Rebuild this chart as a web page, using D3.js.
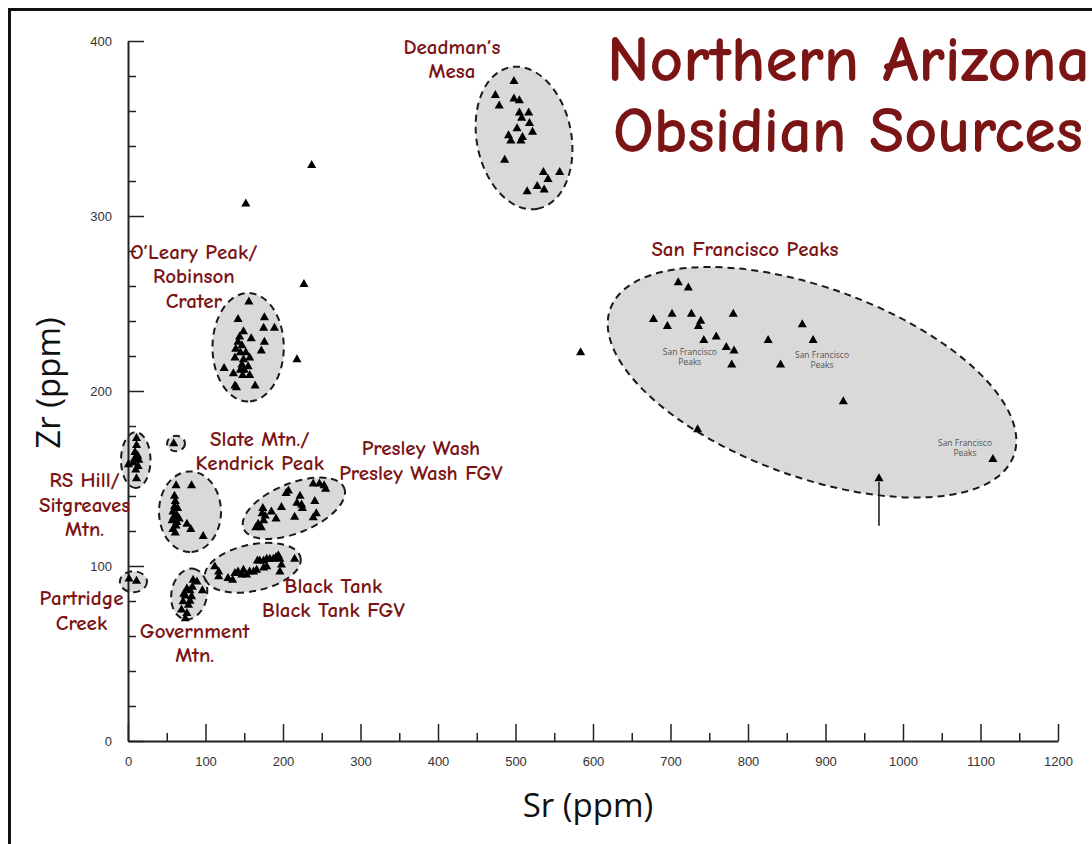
<!DOCTYPE html>
<html>
<head>
<meta charset="utf-8">
<script src="https://cdn.jsdelivr.net/npm/d3@7"></script>
<style>
  html, body { margin: 0; padding: 0; background: #fff; }
  svg { display: block; }
</style>
</head>
<body>
<svg id="chart" width="1092" height="844"></svg>
<script>
// Sr (ppm) / Zr (ppm) measurements, grouped by obsidian source
const deadmansMesa = [
  [498,377],[474,369],[498,367],[505,366],[479,363],[505,359],[517,359],[508,356],
  [518,353],[502,350],[522,348],[491,346],[509,345],[494,343],[507,343],[486,332],
  [536,325],[557,325],[542,321],[528,317],[537,315],[515,314]
];
const olearyPeak = [
  [156,251],[142,241],[176,242],[175,236],[189,236],[149,234],[159,230],[142,228],
  [176,228],[172,223],[145,222],[138,219],[157,219],[149,218],[124,213],[136,210],
  [145,212],[148,209],[157,209],[138,203],[140,202],[164,203],[147,215],[147,226],
  [152,222],[155,214],[144,231],[150,212],[139,224]
];
const rsHill = [
  [11,173],[11,169],[9,165],[12.5,163],[9,161.5],[14,160.5],[0.5,158],[7,159],
  [13,157],[10,155],[11,150]
];
const isolated = [[59,170]];
const slateMtn = [
  [62,146],[82,146],[61,137],[60,134],[58,131],[63,129],[57,126],[62,123],[58,121],
  [76,124],[81,121],[97,117],[60,140],[64,133],[59,128],[63,125],[61,119],[66,127]
];
const partridgeCreek = [[1.3,92.6],[11,91.4]];
const governmentMtn = [
  [84,92],[89,91],[76,87],[80,86],[96,86],[74,83],[82,82.5],[71,79.6],[78,77.7],
  [69,75],[76,73],[74,70],[80,80],[72,84],[83,88]
];
const presleyWash = [
  [239,147],[247,147],[253,146],[255,144],[207,143],[204,141.5],[222,140],[241,137],
  [218,136],[224,135],[225,133],[198,133.5],[174,133],[185,131],[173,130],[177,128.6],
  [191,127],[215,128],[243,130],[239,127.6],[175,126],[168,124],[165,122],[172,122]
];
const blackTank = [
  [215,104],[196,104],[194,106],[191,105],[187.5,104],[183,104],[179,104],[175,103],
  [170,103],[167,103],[198,100.6],[179,99.6],[175,99],[196,96.7],[166,97.7],[162,96.7],
  [157,96.7],[153,95],[149,97.7],[147,95],[142,96.7],[138,95.8],[129,93],[135,92],
  [117,96.7],[112,99.6],[117,94]
];
const sanFranciscoPeaks = [
  [710,262],[723,259],[678,241],[702,244],[727,244],[739,240],[736,237],[696,237],
  [781,244],[743,229],[759,231],[772,225],[782,223],[779,215],[826,229],[842,215],
  [870,238],[884,229],[923,194],[735,178],[969,150],[1116,161]
];
const outliers = [[152,307],[237,329],[227,261],[218,218],[584,222]];

// Source envelopes: centre (Sr, Zr), semi-axes in Sr ppm, tilt in degrees
const envelopes = [
  {name:"Deadman's Mesa",   sr:511, zr:344.6, a:93,  b:61,  tilt:79},
  {name:"O'Leary Peak",     sr:155, zr:225,   a:70,  b:46,  tilt:90},
  {name:"RS Hill",          sr:10,  zr:160.5, a:36,  b:19,  tilt:90},
  {name:"Isolated",         sr:62,  zr:170,   a:11.5,b:10,  tilt:0},
  {name:"Slate Mtn.",       sr:80,  zr:131,   a:52,  b:40,  tilt:90},
  {name:"Presley Wash",     sr:214, zr:133,   a:70,  b:32,  tilt:-22},
  {name:"Black Tank",       sr:161, zr:99,    a:63,  b:30,  tilt:-12},
  {name:"Government Mtn.",  sr:79,  zr:84,    a:33,  b:23,  tilt:-80},
  {name:"Partridge Creek",  sr:7,   zr:91,    a:17.5,b:13.5,tilt:0},
  {name:"San Francisco Peaks", sr:882.6, zr:205, a:277, b:122, tilt:20}
];

const pointGroups = [deadmansMesa, olearyPeak, rsHill, isolated, slateMtn, partridgeCreek,
  governmentMtn, presleyWash, blackTank, sanFranciscoPeaks, outliers];

// Source names: anchor (Sr, Zr) of the first line
const sourceLabels = [
  {lines:["Deadman’s","Mesa"], sr:418, zr:392.6},
  {lines:["O’Leary Peak/","Robinson","Crater"], sr:85, zr:275.5},
  {lines:["Slate Mtn./","Kendrick Peak"], sr:170, zr:168.6},
  {lines:["Presley Wash","Presley Wash FGV"], sr:378, zr:163.4},
  {lines:["RS Hill/","Sitgreaves","Mtn."], sr:-56, zr:145},
  {lines:["Partridge","Creek"], sr:-60, zr:77.5},
  {lines:["Government","Mtn."], sr:86, zr:59},
  {lines:["Black Tank","Black Tank FGV"], sr:265, zr:84.6},
  {lines:["San Francisco Peaks"], sr:796, zr:277}
];
const smallLabels = [
  {lines:["San Francisco","Peaks"], sr:725, zr:220.8},
  {lines:["San Francisco","Peaks"], sr:895.5, zr:219},
  {lines:["San Francisco","Peaks"], sr:1080, zr:168.8}
];
// pointer beneath the Sr 969 sample
const pointer = {sr:969, zrFrom:148, zrTo:123};

const titleLines = ["Northern Arizona", "Obsidian Sources"];
const xTicks = d3.range(0, 1201, 100);
const xMinor = d3.range(50, 1200, 100);
const yTicks = [0, 100, 200, 300, 400];
const yMinor = [20,40,60,80,120,140,160,180,220,240,260,280,320,340,360,380];

const svg = d3.select("#chart");
const x = d3.scaleLinear().domain([0, 1200]).range([128, 1058]);
const y = d3.scaleLinear().domain([0, 400]).range([741, 41]);
const pxPerSr = x(1) - x(0);

const red = "#7b1414";
const comic = "'Comic Sans MS', 'Comic Neue', 'DejaVu Sans', sans-serif";

// outer frame
svg.append("rect").attr("x", 9.5).attr("y", 9.5).attr("width", 1200).attr("height", 900)
  .attr("fill", "none").attr("stroke", "#111").attr("stroke-width", 3);

// envelopes
svg.append("g").selectAll("ellipse").data(envelopes).join("ellipse")
  .attr("transform", d => `translate(${x(d.sr)},${y(d.zr)}) rotate(${d.tilt})`)
  .attr("rx", d => d.a * pxPerSr).attr("ry", d => d.b * pxPerSr)
  .attr("fill", "#d9d9d9").attr("stroke", "#1a1a1a").attr("stroke-width", 2)
  .attr("stroke-dasharray", "7,5");

// axes
const axisG = svg.append("g").attr("font-family", "'DejaVu Serif', serif");
axisG.append("g").attr("transform", `translate(0,${y(0)})`)
  .call(d3.axisBottom(x).tickValues(xTicks).tickSizeInner(-17).tickSizeOuter(0).tickPadding(16)
    .tickFormat(d3.format("d")));
axisG.append("g").attr("transform", `translate(0,${y(0)})`)
  .call(d3.axisBottom(x).tickValues(xMinor).tickSizeInner(-8).tickSizeOuter(0).tickFormat(""))
  .call(g => g.select(".domain").remove());
axisG.append("g").attr("transform", `translate(${x(0)},0)`)
  .call(d3.axisLeft(y).tickValues(yTicks).tickSizeInner(-16).tickSizeOuter(0).tickPadding(16)
    .tickFormat(d3.format("d")));
axisG.append("g").attr("transform", `translate(${x(0)},0)`)
  .call(d3.axisLeft(y).tickValues(yMinor).tickSizeInner(-8).tickSizeOuter(0).tickFormat(""))
  .call(g => g.select(".domain").remove());
axisG.selectAll(".domain").attr("stroke", "#222").attr("stroke-width", 2);
axisG.selectAll(".tick line").attr("stroke", "#222").attr("stroke-width", 1.5);
axisG.selectAll(".tick text").attr("fill", "#333").attr("font-size", 13);

// axis titles
svg.append("text").attr("x", 588).attr("y", 817).attr("text-anchor", "middle")
  .attr("font-family", "'Open Sans', sans-serif").attr("font-size", 33).attr("fill", "#111")
  .text("Sr (ppm)");
svg.append("text").attr("transform", "translate(60,383) rotate(-90)").attr("text-anchor", "middle")
  .attr("font-family", "'Open Sans', sans-serif").attr("font-size", 33).attr("fill", "#111")
  .text("Zr (ppm)");

// pointer line
svg.append("line").attr("x1", x(pointer.sr)).attr("x2", x(pointer.sr))
  .attr("y1", y(pointer.zrFrom)).attr("y2", y(pointer.zrTo))
  .attr("stroke", "#111").attr("stroke-width", 1.5);

// samples
const tri = d3.symbol().type(d3.symbolTriangle).size(36);
svg.append("g").selectAll("path").data(pointGroups.flat()).join("path")
  .attr("transform", d => `translate(${x(d[0])},${y(d[1])})`)
  .attr("d", tri).attr("fill", "#000");

// small reference labels
smallLabels.forEach(l => {
  const t = svg.append("text").attr("text-anchor", "middle")
    .attr("font-family", "'Open Sans', sans-serif").attr("font-size", 8.5).attr("fill", "#555");
  l.lines.forEach((s, i) => t.append("tspan").attr("x", x(l.sr)).attr("y", y(l.zr) + i * 10.5).text(s));
});

// source names
sourceLabels.forEach(l => {
  const t = svg.append("text").attr("text-anchor", "middle")
    .attr("font-family", comic).attr("font-size", 21).attr("font-weight", 600).attr("fill", red);
  l.lines.forEach((s, i) => t.append("tspan").attr("x", x(l.sr)).attr("y", y(l.zr) + i * 24.5).text(s));
});

// title, sized to its block width
titleLines.forEach((s, i) => {
  const t = svg.append("text").attr("x", i === 0 ? 607 : 613).attr("y", i === 0 ? 81 : 152)
    .attr("font-family", comic).attr("font-weight", 700).attr("fill", red).attr("font-size", 50).text(s);
  const w = t.node().getComputedTextLength();
  const target = i === 0 ? 483 : 470;
  t.attr("font-size", 50 * target / w);
});
</script>
</body>
</html>
